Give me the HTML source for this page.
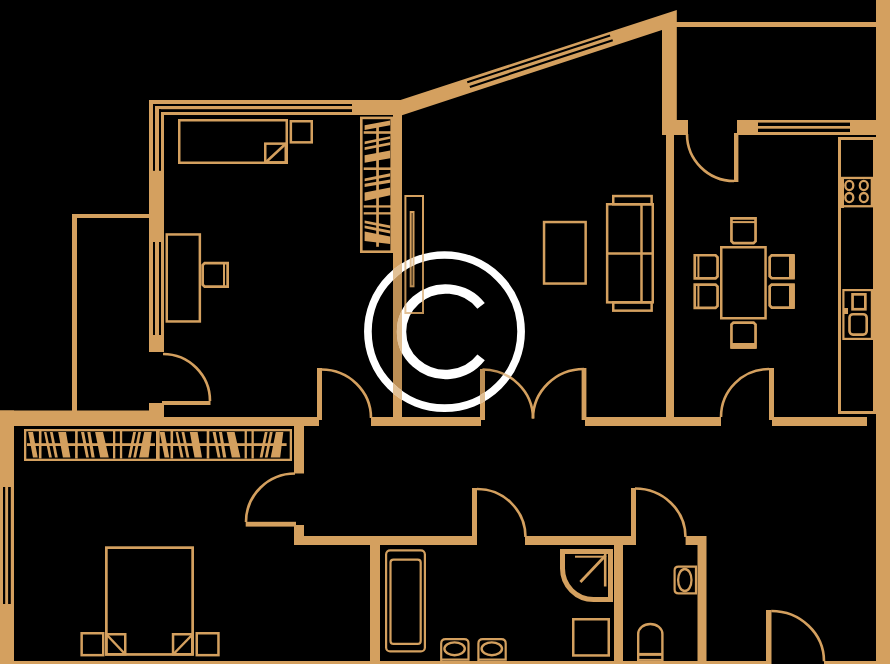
<!DOCTYPE html>
<html><head><meta charset="utf-8"><style>
html,body{margin:0;padding:0;background:#000;width:890px;height:664px;overflow:hidden}
svg{display:block}
</style></head><body>
<svg width="890" height="664" viewBox="0 0 890 664">
<defs>
<g id="plan">
<rect x="149.00" y="100.00" width="253.00" height="15.00" fill="#D4A05F"/>
<rect x="149.00" y="100.00" width="15.00" height="252.00" fill="#D4A05F"/>
<rect x="153.00" y="104.00" width="199.00" height="2.00" fill="#000"/>
<rect x="153.00" y="104.00" width="2.00" height="66.80" fill="#000"/>
<rect x="159.00" y="109.20" width="193.00" height="2.80" fill="#000"/>
<rect x="159.00" y="109.20" width="2.00" height="61.60" fill="#000"/>
<rect x="153.00" y="242.00" width="2.00" height="93.00" fill="#000"/>
<rect x="159.00" y="242.00" width="2.00" height="93.00" fill="#000"/>
<rect x="393.00" y="100.00" width="9.00" height="326.00" fill="#D4A05F"/>
<polygon points="400.50,100.00 676.80,10.00 676.80,135.00 662.00,135.00 662.00,30.00 402.00,115.20 400.50,115.20" fill="#D4A05F"/>
<g transform="translate(401,100) rotate(-18.122)"><rect x="68.5" y="2.7" width="150.3" height="2.0" fill="#000"/><rect x="69.5" y="7.9" width="150.3" height="2.2" fill="#000"/></g>
<rect x="676.00" y="120.00" width="12.00" height="15.00" fill="#D4A05F"/>
<rect x="666.00" y="134.00" width="8.00" height="292.00" fill="#D4A05F"/>
<rect x="676.00" y="22.00" width="200.00" height="5.00" fill="#D4A05F"/>
<rect x="876.00" y="0.00" width="14.00" height="664.00" fill="#D4A05F"/>
<rect x="737.00" y="120.00" width="21.00" height="15.00" fill="#D4A05F"/>
<rect x="758.00" y="120.00" width="92.00" height="2.60" fill="#D4A05F"/>
<rect x="758.00" y="126.00" width="92.00" height="2.70" fill="#D4A05F"/>
<rect x="758.00" y="132.00" width="118.00" height="3.00" fill="#D4A05F"/>
<rect x="850.00" y="120.00" width="26.00" height="15.00" fill="#D4A05F"/>
<rect x="0.00" y="410.50" width="149.00" height="15.50" fill="#D4A05F"/>
<rect x="149.00" y="403.00" width="15.00" height="23.00" fill="#D4A05F"/>
<rect x="164.00" y="417.00" width="155.00" height="9.00" fill="#D4A05F"/>
<rect x="371.00" y="417.00" width="110.00" height="9.00" fill="#D4A05F"/>
<rect x="585.00" y="417.00" width="136.00" height="9.00" fill="#D4A05F"/>
<rect x="772.00" y="417.00" width="95.00" height="9.00" fill="#D4A05F"/>
<rect x="0.00" y="410.50" width="14.00" height="253.50" fill="#D4A05F"/>
<rect x="3.00" y="487.00" width="2.20" height="117.00" fill="#000"/>
<rect x="8.10" y="487.00" width="2.70" height="117.00" fill="#000"/>
<rect x="72.00" y="214.00" width="5.00" height="197.00" fill="#D4A05F"/>
<rect x="72.00" y="214.00" width="78.00" height="4.00" fill="#D4A05F"/>
<rect x="294.00" y="417.00" width="10.00" height="56.50" fill="#D4A05F"/>
<rect x="294.00" y="525.00" width="10.00" height="20.00" fill="#D4A05F"/>
<rect x="294.00" y="536.00" width="180.50" height="9.00" fill="#D4A05F"/>
<rect x="525.00" y="536.00" width="108.60" height="9.00" fill="#D4A05F"/>
<rect x="685.60" y="536.00" width="20.40" height="9.00" fill="#D4A05F"/>
<rect x="370.00" y="536.00" width="10.00" height="128.00" fill="#D4A05F"/>
<rect x="614.00" y="536.00" width="9.00" height="128.00" fill="#D4A05F"/>
<rect x="697.50" y="536.00" width="9.00" height="128.00" fill="#D4A05F"/>
<rect x="0.00" y="661.00" width="766.00" height="3.00" fill="#D4A05F"/>
<rect x="824.00" y="661.00" width="66.00" height="3.00" fill="#D4A05F"/>
<rect x="162.00" y="401.00" width="48.50" height="4.00" fill="#D4A05F"/>
<path d="M163.00,354.00 A47.00,47.00 0 0 1 210.00,401.00" fill="none" stroke="#D4A05F" stroke-width="2.6"/>
<rect x="317.00" y="368.00" width="5.00" height="52.00" fill="#D4A05F"/>
<path d="M321.50,369.50 A49.50,48.50 0 0 1 371.00,418.00" fill="none" stroke="#D4A05F" stroke-width="2.6"/>
<rect x="480.00" y="369.00" width="5.00" height="51.00" fill="#D4A05F"/>
<path d="M482.50,369.50 A50.50,49.00 0 0 1 533.00,418.50" fill="none" stroke="#D4A05F" stroke-width="2.6"/>
<rect x="581.60" y="368.00" width="4.80" height="52.00" fill="#D4A05F"/>
<path d="M584.00,369.00 A51.00,49.50 0 0 0 533.00,418.50" fill="none" stroke="#D4A05F" stroke-width="2.6"/>
<rect x="769.00" y="368.00" width="5.00" height="52.00" fill="#D4A05F"/>
<path d="M769.00,369.00 A48.00,48.00 0 0 0 721.00,417.00" fill="none" stroke="#D4A05F" stroke-width="2.6"/>
<rect x="734.00" y="133.00" width="4.40" height="49.00" fill="#D4A05F"/>
<path d="M687.00,134.00 A47.00,47.00 0 0 0 734.00,181.00" fill="none" stroke="#D4A05F" stroke-width="2.6"/>
<rect x="245.70" y="521.80" width="50.30" height="4.80" fill="#D4A05F"/>
<path d="M295.00,473.50 A49.00,48.50 0 0 0 246.00,522.00" fill="none" stroke="#D4A05F" stroke-width="2.6"/>
<rect x="472.00" y="488.00" width="5.00" height="57.00" fill="#D4A05F"/>
<path d="M477.00,489.00 A48.50,48.00 0 0 1 525.50,537.00" fill="none" stroke="#D4A05F" stroke-width="2.6"/>
<rect x="631.00" y="488.00" width="5.00" height="57.00" fill="#D4A05F"/>
<path d="M635.00,488.50 A50.50,48.50 0 0 1 685.50,537.00" fill="none" stroke="#D4A05F" stroke-width="2.6"/>
<rect x="766.00" y="610.00" width="5.50" height="54.00" fill="#D4A05F"/>
<path d="M771.30,611.00 A52.70,50.30 0 0 1 824.00,661.30" fill="none" stroke="#D4A05F" stroke-width="2.6"/>
<rect x="179.25" y="120.25" width="107.50" height="42.50" fill="none" stroke="#D4A05F" stroke-width="2.5"/>
<rect x="265.25" y="143.65" width="20.50" height="18.70" fill="none" stroke="#D4A05F" stroke-width="2.5"/>
<line x1="265.50" y1="162.50" x2="286.00" y2="143.50" stroke="#D4A05F" stroke-width="2.5"/>
<rect x="290.85" y="121.25" width="20.90" height="21.10" fill="none" stroke="#D4A05F" stroke-width="2.5"/>
<rect x="166.75" y="234.45" width="33.10" height="87.00" fill="none" stroke="#D4A05F" stroke-width="2.5"/>
<path d="M202.65,265.15 L204.65,263.15 L227.65,263.15 L227.65,286.65 L204.65,286.65 L202.65,284.65 Z" fill="none" stroke="#D4A05F" stroke-width="2.7"/>
<line x1="224.00" y1="262.80" x2="224.00" y2="287.00" stroke="#D4A05F" stroke-width="2"/>
<rect x="361.30" y="117.90" width="30.40" height="133.80" fill="none" stroke="#D4A05F" stroke-width="2.6"/>
<rect x="405.40" y="196.00" width="17.60" height="117.00" fill="none" stroke="#D4A05F" stroke-width="2"/>
<rect x="410.70" y="212.00" width="2.80" height="74.30" fill="none" stroke="#D4A05F" stroke-width="2"/>
<rect x="544.05" y="222.05" width="41.60" height="61.50" fill="none" stroke="#D4A05F" stroke-width="2.5"/>
<rect x="613.25" y="196.05" width="38.40" height="8.20" fill="none" stroke="#D4A05F" stroke-width="2.5"/>
<rect x="613.25" y="302.35" width="38.40" height="8.30" fill="none" stroke="#D4A05F" stroke-width="2.5"/>
<rect x="607.15" y="204.25" width="45.60" height="98.10" fill="none" stroke="#D4A05F" stroke-width="2.5"/>
<line x1="641.50" y1="204.00" x2="641.50" y2="302.50" stroke="#D4A05F" stroke-width="2.5"/>
<line x1="607.00" y1="253.50" x2="653.00" y2="253.50" stroke="#D4A05F" stroke-width="2.5"/>
<rect x="721.25" y="247.25" width="44.30" height="71.00" fill="none" stroke="#D4A05F" stroke-width="2.5"/>
<path d="M731.45,218.45 L755.55,218.45 L755.55,241.15 L753.55,243.15 L733.45,243.15 L731.45,241.15 Z" fill="none" stroke="#D4A05F" stroke-width="2.7"/>
<line x1="731.10" y1="222.10" x2="755.90" y2="222.10" stroke="#D4A05F" stroke-width="2"/>
<path d="M731.45,324.55 L733.45,322.55 L753.55,322.55 L755.55,324.55 L755.55,347.45 L731.45,347.45 Z" fill="none" stroke="#D4A05F" stroke-width="2.7"/>
<rect x="731.10" y="343.00" width="24.80" height="5.80" fill="#D4A05F"/>
<path d="M694.75,255.25 L715.55,255.25 L717.55,257.25 L717.55,276.45 L715.55,278.45 L694.75,278.45 Z" fill="none" stroke="#D4A05F" stroke-width="2.7"/>
<line x1="698.40" y1="254.90" x2="698.40" y2="278.80" stroke="#D4A05F" stroke-width="2"/>
<path d="M694.75,284.55 L715.55,284.55 L717.55,286.55 L717.55,305.85 L715.55,307.85 L694.75,307.85 Z" fill="none" stroke="#D4A05F" stroke-width="2.7"/>
<line x1="698.40" y1="284.20" x2="698.40" y2="308.20" stroke="#D4A05F" stroke-width="2"/>
<path d="M769.65,257.35 L771.65,255.35 L793.45,255.35 L793.45,278.25 L771.65,278.25 L769.65,276.25 Z" fill="none" stroke="#D4A05F" stroke-width="2.7"/>
<rect x="789.00" y="255.00" width="5.80" height="23.60" fill="#D4A05F"/>
<path d="M769.65,286.55 L771.65,284.55 L793.45,284.55 L793.45,307.55 L771.65,307.55 L769.65,305.55 Z" fill="none" stroke="#D4A05F" stroke-width="2.7"/>
<rect x="789.00" y="284.20" width="5.80" height="23.70" fill="#D4A05F"/>
<rect x="839.50" y="138.50" width="35.00" height="274.00" fill="none" stroke="#D4A05F" stroke-width="3"/>
<rect x="841.00" y="177.00" width="3.00" height="31.00" fill="#D4A05F"/>
<rect x="842.15" y="177.95" width="29.70" height="28.30" fill="none" stroke="#D4A05F" stroke-width="2.3"/>
<ellipse cx="849.3" cy="185.5" rx="4" ry="4.6" fill="none" stroke="#D4A05F" stroke-width="2.3"/>
<ellipse cx="849.3" cy="197.6" rx="4" ry="4.6" fill="none" stroke="#D4A05F" stroke-width="2.3"/>
<ellipse cx="863.8" cy="185.5" rx="4" ry="4.6" fill="none" stroke="#D4A05F" stroke-width="2.3"/>
<ellipse cx="863.8" cy="197.6" rx="4" ry="4.6" fill="none" stroke="#D4A05F" stroke-width="2.3"/>
<rect x="843.40" y="290.10" width="28.50" height="48.80" fill="none" stroke="#D4A05F" stroke-width="2.2"/>
<rect x="852.55" y="294.35" width="12.80" height="14.90" fill="none" stroke="#D4A05F" stroke-width="2.7"/>
<rect x="849.50" y="314.20" width="17.20" height="20.40" rx="3.5" fill="none" stroke="#D4A05F" stroke-width="2.6"/>
<rect x="843.00" y="308.00" width="5.00" height="6.00" fill="#D4A05F"/>
<rect x="25.15" y="430.15" width="265.70" height="29.70" fill="none" stroke="#D4A05F" stroke-width="2.3"/>
<g fill="#D4A05F"><polygon points="28.10,432.00 33.00,432.00 37.70,457.60 33.00,457.60"/><polygon points="44.00,432.00 46.40,432.00 51.90,457.60 49.10,457.60"/><polygon points="49.90,432.00 52.70,432.00 57.80,457.60 55.00,457.60"/><polygon points="58.20,432.00 66.00,432.00 70.40,457.60 62.90,457.60"/><polygon points="81.00,432.00 84.10,432.00 88.90,457.60 86.10,457.60"/><polygon points="87.30,432.00 90.40,432.00 94.70,457.60 91.50,457.60"/><polygon points="95.10,432.00 103.00,432.00 108.80,457.60 100.20,457.60"/><polygon points="133.20,432.00 136.00,432.00 130.90,457.60 128.10,457.60"/><polygon points="138.30,432.00 141.10,432.00 136.00,457.60 133.20,457.60"/><polygon points="144.20,432.00 151.70,432.00 148.60,457.60 139.10,457.60"/><rect x="38.9" y="431" width="2.60" height="27.5"/><rect x="75.1" y="431" width="2.60" height="27.5"/><rect x="113" y="431" width="2.30" height="27.5"/><rect x="119.9" y="431" width="2.30" height="27.5"/><rect x="27" y="443.2" width="128" height="2.8"/></g>
<g fill="#D4A05F" transform="translate(131.6,0)"><polygon points="28.10,432.00 33.00,432.00 37.70,457.60 33.00,457.60"/><polygon points="44.00,432.00 46.40,432.00 51.90,457.60 49.10,457.60"/><polygon points="49.90,432.00 52.70,432.00 57.80,457.60 55.00,457.60"/><polygon points="58.20,432.00 66.00,432.00 70.40,457.60 62.90,457.60"/><polygon points="81.00,432.00 84.10,432.00 88.90,457.60 86.10,457.60"/><polygon points="87.30,432.00 90.40,432.00 94.70,457.60 91.50,457.60"/><polygon points="95.10,432.00 103.00,432.00 108.80,457.60 100.20,457.60"/><polygon points="133.20,432.00 136.00,432.00 130.90,457.60 128.10,457.60"/><polygon points="138.30,432.00 141.10,432.00 136.00,457.60 133.20,457.60"/><polygon points="144.20,432.00 151.70,432.00 148.60,457.60 139.10,457.60"/><rect x="38.9" y="431" width="2.60" height="27.5"/><rect x="75.1" y="431" width="2.60" height="27.5"/><rect x="113" y="431" width="2.30" height="27.5"/><rect x="119.9" y="431" width="2.30" height="27.5"/><rect x="27" y="443.2" width="128" height="2.8"/></g>
<rect x="156.00" y="430.00" width="3.70" height="29.00" fill="#D4A05F"/>
<g fill="#D4A05F" transform="matrix(0,1,-1,0,822.2,92.3)"><polygon points="28.10,432.00 33.00,432.00 37.70,457.60 33.00,457.60"/><polygon points="44.00,432.00 46.40,432.00 51.90,457.60 49.10,457.60"/><polygon points="49.90,432.00 52.70,432.00 57.80,457.60 55.00,457.60"/><polygon points="58.20,432.00 66.00,432.00 70.40,457.60 62.90,457.60"/><polygon points="81.00,432.00 84.10,432.00 88.90,457.60 86.10,457.60"/><polygon points="87.30,432.00 90.40,432.00 94.70,457.60 91.50,457.60"/><polygon points="95.10,432.00 103.00,432.00 108.80,457.60 100.20,457.60"/><polygon points="133.20,432.00 136.00,432.00 130.90,457.60 128.10,457.60"/><polygon points="138.30,432.00 141.10,432.00 136.00,457.60 133.20,457.60"/><polygon points="144.20,432.00 151.70,432.00 148.60,457.60 139.10,457.60"/><rect x="38.9" y="431" width="2.60" height="27.5"/><rect x="75.1" y="431" width="2.60" height="27.5"/><rect x="113" y="431" width="2.30" height="27.5"/><rect x="119.9" y="431" width="2.30" height="27.5"/></g>
<rect x="376.20" y="126.00" width="2.70" height="120.80" fill="#D4A05F"/>
<rect x="106.35" y="547.65" width="86.30" height="106.80" fill="none" stroke="#D4A05F" stroke-width="2.7"/>
<rect x="106.25" y="634.25" width="19.00" height="20.00" fill="none" stroke="#D4A05F" stroke-width="2.5"/>
<line x1="107.00" y1="635.00" x2="125.00" y2="654.00" stroke="#D4A05F" stroke-width="2.5"/>
<rect x="173.05" y="634.25" width="19.20" height="20.00" fill="none" stroke="#D4A05F" stroke-width="2.5"/>
<line x1="192.00" y1="635.00" x2="173.50" y2="654.00" stroke="#D4A05F" stroke-width="2.5"/>
<rect x="81.65" y="633.25" width="21.60" height="21.90" fill="none" stroke="#D4A05F" stroke-width="2.5"/>
<rect x="196.75" y="633.25" width="21.70" height="21.90" fill="none" stroke="#D4A05F" stroke-width="2.5"/>
<rect x="386.10" y="550.40" width="38.80" height="101.00" rx="4" fill="none" stroke="#D4A05F" stroke-width="2.2"/>
<rect x="390.50" y="559.60" width="30.20" height="84.30" rx="3" fill="none" stroke="#D4A05F" stroke-width="2.2"/>
<path d="M441.20,661 V643.5 Q441.20,639.1 445.60,639.1 H464.10 Q468.50,639.1 468.50,643.5 V659.6 H441.20 Z" fill="none" stroke="#D4A05F" stroke-width="2.2"/>
<ellipse cx="454.60" cy="648.8" rx="10.2" ry="6.4" fill="none" stroke="#D4A05F" stroke-width="2.4"/>
<path d="M478.40,661 V643.5 Q478.40,639.1 482.80,639.1 H501.30 Q505.70,639.1 505.70,643.5 V659.6 H478.40 Z" fill="none" stroke="#D4A05F" stroke-width="2.2"/>
<ellipse cx="491.80" cy="648.8" rx="10.2" ry="6.4" fill="none" stroke="#D4A05F" stroke-width="2.4"/>
<path d="M562.5,551.5 H610.5 V599.5 H593.5 A31,31 0 0 1 562.5,568.5 Z" fill="none" stroke="#D4A05F" stroke-width="5"/>
<line x1="580.40" y1="582.00" x2="605.50" y2="555.50" stroke="#D4A05F" stroke-width="2.8"/>
<line x1="575.00" y1="556.70" x2="604.50" y2="556.70" stroke="#D4A05F" stroke-width="2.0"/>
<line x1="605.20" y1="554.00" x2="605.20" y2="586.50" stroke="#D4A05F" stroke-width="2.6"/>
<rect x="573.25" y="619.25" width="35.50" height="36.20" fill="none" stroke="#D4A05F" stroke-width="2.5"/>
<path d="M638.2,661 V634 A12.1,10 0 0 1 662.4,634 V661" fill="none" stroke="#D4A05F" stroke-width="2.4"/>
<line x1="638.00" y1="654.40" x2="662.50" y2="654.40" stroke="#D4A05F" stroke-width="3.0"/>
<line x1="638.00" y1="659.90" x2="662.50" y2="659.90" stroke="#D4A05F" stroke-width="2.0"/>
<path d="M696,566.6 H678.5 Q674.6,566.6 674.6,570.5 V589.5 Q674.6,593.4 678.5,593.4 H696 Z" fill="none" stroke="#D4A05F" stroke-width="2.2"/>
<ellipse cx="684.8" cy="580" rx="6.7" ry="11" fill="none" stroke="#D4A05F" stroke-width="2.3"/>
</g>
<mask id="wmm" maskUnits="userSpaceOnUse" x="0" y="0" width="890" height="664">
<rect width="890" height="664" fill="#000"/>
<g><circle cx="444.5" cy="331.6" r="76.6" fill="none" stroke="#fff" stroke-width="7.7"/><path d="M481.1,305.96 A44.25,42.75 0 1 0 481.1,357.44" fill="none" stroke="#fff" stroke-width="9.4"/></g>
</mask>
</defs>
<rect width="890" height="664" fill="#000"/>
<use href="#plan"/>
<circle cx="444.5" cy="331.6" r="73.5" fill="#000" fill-opacity="0.11"/>
<g><circle cx="444.5" cy="331.6" r="76.6" fill="none" stroke="#fff" stroke-width="7.7"/><path d="M481.1,305.96 A44.25,42.75 0 1 0 481.1,357.44" fill="none" stroke="#fff" stroke-width="9.4"/></g>
<g mask="url(#wmm)" opacity="0.65"><use href="#plan"/></g>
</svg>
</body></html>
